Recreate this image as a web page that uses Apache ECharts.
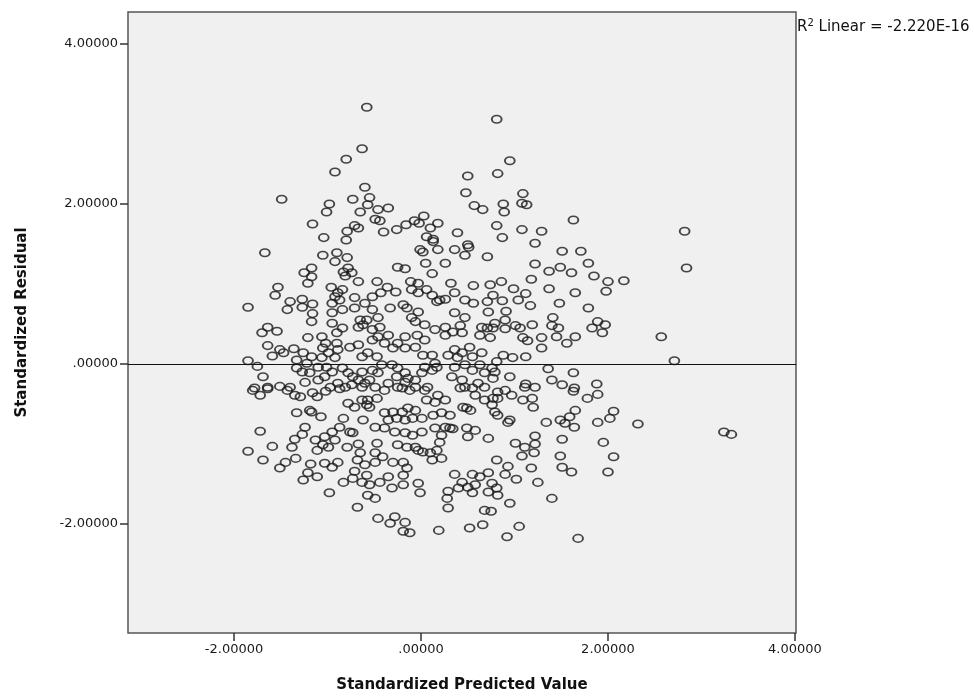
<!DOCTYPE html>
<html>
<head>
<meta charset="utf-8">
<title>Standardized Residual vs Standardized Predicted Value</title>
<script src="https://cdn.jsdelivr.net/npm/echarts@6/dist/echarts.min.js"></script>
<style>
  html, body { margin: 0; padding: 0; background: #fff; }
  #chart { width: 974px; height: 698px; }
</style>
</head>
<body>
<div id="chart"></div>
<script>
// [standardized predicted value, standardized residual]
const points = [
  [-0.58,3.21],[-0.63,2.69],[-0.80,2.56],[-0.92,2.40],[-0.60,2.21],[-1.49,2.06],[-0.73,2.06],[-0.98,2.00],
  [-1.01,1.90],[-0.65,1.90],[-0.55,2.08],[-0.57,1.99],[-1.16,1.75],[-0.71,1.73],[-0.67,1.70],[-0.79,1.66],
  [-1.04,1.58],[-0.80,1.55],
  [0.81,3.06],[0.50,2.35],[0.82,2.38],[0.48,2.14],[0.57,1.98],[0.66,1.93],[0.88,2.00],[-0.46,1.93],
  [-0.35,1.95],[-0.49,1.81],[-0.44,1.79],[-0.40,1.65],[-0.26,1.68],[-0.16,1.74],[-0.07,1.79],[-0.02,1.76],
  [0.03,1.85],[0.18,1.76],[0.10,1.70],[0.06,1.59],[0.13,1.56],[0.39,1.64],[0.50,1.49],[0.81,1.73],
  [0.95,2.54],[1.09,2.13],[0.89,1.90],[1.08,2.01],[1.13,1.99],[1.63,1.80],[1.08,1.68],[1.29,1.66],
  [0.87,1.58],[1.22,1.51],
  [2.82,1.66],[2.84,1.20],[2.17,1.04],[2.57,0.34],[2.71,0.04],[2.32,-0.75],[3.24,-0.85],[3.32,-0.88],
  [-1.67,1.39],[-1.05,1.36],[-0.90,1.39],[-0.92,1.28],[-0.79,1.33],[-1.25,1.14],[-1.17,1.20],[-1.21,1.01],
  [-1.17,1.09],[-0.83,1.15],[-0.78,1.20],[-0.74,1.14],[-0.81,1.10],[-0.67,1.03],[-1.53,0.96],[-1.56,0.86],
  [-0.96,0.96],[-0.89,0.89],[-0.84,0.93],[-0.92,0.84],[-0.87,0.80],[-0.71,0.83],[-0.60,0.76],[-1.85,0.71],
  [-1.40,0.78],[-1.43,0.68],[-1.27,0.81],[-1.27,0.71],[-1.16,0.75],[-1.16,0.63],[-1.17,0.53],[-0.95,0.76],
  [-0.95,0.64],[-0.95,0.51],[-0.84,0.68],[-0.71,0.70],[-0.65,0.55],[-0.67,0.46],[-0.62,0.49],[-1.64,0.46],
  [-1.70,0.39],[-1.54,0.41],[-1.21,0.33],[-0.84,0.45],[-0.90,0.39],[-1.64,0.23],[-1.59,0.10],[-1.51,0.18],
  [-1.47,0.14],[-1.36,0.19],[-1.06,0.34],[-1.02,0.26],[-1.05,0.20],[-0.99,0.14],[-0.90,0.26],[-0.89,0.18],
  [-0.92,0.08],[-0.76,0.21],[-0.67,0.24],[-0.63,0.09],[-1.26,0.14],[-1.17,0.09],[-1.33,0.05],[-1.22,0.01],
  [-1.06,0.08],[-1.10,-0.04],[-1.85,0.04],[-1.75,-0.03],[-1.33,-0.05],[-1.27,-0.10],[-1.19,-0.11],[-1.24,-0.23],
  [-1.01,-0.04],[-0.95,-0.10],[-1.03,-0.16],[-1.10,-0.20],[-0.84,-0.05],[-0.78,-0.11],[-0.73,-0.16],[-0.63,-0.10],
  [-0.60,-0.24],[-0.67,-0.20],[-1.69,-0.16],[-1.78,-0.30],[-1.64,-0.29],[-1.51,-0.28],[-1.40,-0.29],[-0.89,-0.24],
  [-0.81,-0.29],[-0.97,-0.29],
  [0.13,1.53],[-0.01,1.43],[0.02,1.40],[0.18,1.43],[0.36,1.43],[0.47,1.36],[0.51,1.46],[0.71,1.34],
  [0.05,1.26],[0.26,1.26],[-0.25,1.21],[-0.17,1.19],[0.12,1.13],[-0.47,1.03],[-0.36,0.96],[-0.27,0.90],
  [-0.43,0.89],[-0.52,0.84],[-0.11,1.03],[-0.03,1.01],[-0.10,0.93],[-0.03,0.89],[0.06,0.93],[0.12,0.86],
  [0.17,0.78],[0.20,0.80],[0.32,1.01],[0.36,0.89],[0.26,0.81],[0.56,0.98],[0.74,0.99],[0.77,0.86],
  [0.71,0.78],[0.47,0.80],[0.56,0.76],[-0.33,0.70],[-0.19,0.74],[-0.15,0.70],[-0.03,0.65],[-0.52,0.68],
  [-0.46,0.58],[-0.58,0.55],[-0.10,0.58],[-0.06,0.53],[0.04,0.49],[0.36,0.64],[0.47,0.58],[0.42,0.48],
  [0.72,0.65],[-0.52,0.43],[-0.44,0.46],[-0.35,0.36],[-0.46,0.34],[-0.39,0.26],[-0.30,0.20],[-0.25,0.26],
  [-0.52,0.30],[-0.17,0.34],[-0.04,0.36],[0.04,0.30],[0.15,0.43],[0.26,0.46],[0.26,0.36],[0.34,0.40],
  [0.44,0.39],[0.65,0.46],[0.71,0.45],[0.77,0.45],[0.63,0.36],[0.74,0.33],[-0.17,0.20],[-0.06,0.21],
  [0.02,0.11],[0.12,0.11],[0.15,0.01],[0.29,0.11],[0.36,0.18],[0.44,0.14],[0.52,0.21],[0.55,0.09],
  [0.65,0.14],[0.39,0.08],[-0.57,0.14],[-0.47,0.09],[-0.42,-0.01],[-0.52,-0.08],[-0.46,-0.11],[-0.55,-0.20],
  [-0.31,-0.01],[-0.25,-0.05],[-0.17,-0.11],[-0.26,-0.16],[-0.14,-0.18],[-0.06,-0.20],[0.01,-0.11],[0.04,-0.04],
  [0.17,-0.04],[0.12,-0.08],[0.36,-0.04],[0.47,-0.01],[0.55,-0.08],[0.63,-0.01],[0.76,-0.05],[0.68,-0.11],
  [0.77,-0.18],[0.33,-0.16],[0.44,-0.20],[0.47,-0.29],[0.61,-0.24],[0.68,-0.29],[-0.35,-0.24],[-0.25,-0.29],
  [-0.17,-0.23],[-0.06,-0.29],[0.07,-0.29],
  [1.51,1.41],[1.71,1.41],[1.22,1.25],[1.37,1.16],[1.49,1.21],[1.61,1.14],[1.79,1.26],[1.85,1.10],
  [2.00,1.03],[1.98,0.91],[1.18,1.06],[0.86,1.03],[0.99,0.94],[1.12,0.88],[1.04,0.80],[1.17,0.73],
  [0.87,0.79],[1.37,0.94],[1.65,0.89],[1.48,0.76],[1.79,0.70],[0.91,0.66],[0.90,0.55],[0.79,0.51],
  [0.90,0.44],[1.01,0.48],[1.06,0.45],[1.19,0.49],[1.41,0.58],[1.40,0.48],[1.47,0.45],[1.45,0.34],
  [1.83,0.45],[1.89,0.53],[1.97,0.49],[1.94,0.39],[1.09,0.33],[1.14,0.29],[1.29,0.33],[1.29,0.20],
  [1.56,0.26],[1.65,0.34],[0.88,0.11],[0.98,0.08],[1.12,0.09],[0.81,0.03],[1.36,-0.06],[0.95,-0.16],
  [0.79,-0.10],[1.40,-0.20],[1.51,-0.26],[1.63,-0.11],[1.64,-0.30],[1.12,-0.25],[1.22,-0.29],[1.88,-0.25],
  [-1.80,-0.33],[-1.72,-0.39],[-1.64,-0.31],[-1.43,-0.33],[-1.35,-0.39],[-1.29,-0.41],[-1.16,-0.36],[-1.11,-0.41],
  [-1.02,-0.34],[-0.87,-0.31],[-0.74,-0.26],[-0.63,-0.29],[-1.33,-0.61],[-1.19,-0.58],[-1.17,-0.60],[-1.07,-0.66],
  [-0.78,-0.49],[-0.71,-0.54],[-0.63,-0.45],[-0.58,-0.51],[-0.83,-0.68],[-0.87,-0.79],[-0.76,-0.85],[-0.73,-0.86],
  [-0.62,-0.70],[-1.72,-0.84],[-1.24,-0.79],[-1.27,-0.88],[-1.35,-0.94],[-1.38,-1.04],[-1.13,-0.95],[-1.03,-0.91],
  [-0.95,-0.85],[-0.92,-0.95],[-0.99,-1.04],[-1.11,-1.08],[-1.05,-1.01],[-0.79,-1.04],[-0.67,-1.00],[-0.65,-1.11],
  [-0.68,-1.20],[-1.85,-1.09],[-1.59,-1.03],[-1.69,-1.20],[-1.34,-1.18],[-1.45,-1.23],[-1.51,-1.30],[-1.18,-1.25],
  [-1.21,-1.36],[-1.26,-1.45],[-1.11,-1.41],[-1.03,-1.24],[-0.95,-1.29],[-0.89,-1.23],[-0.71,-1.34],[-0.73,-1.43],
  [-0.63,-1.48],[-0.83,-1.48],[-0.60,-1.26],[-0.58,-1.39],[-0.98,-1.61],[-0.68,-1.79],[-0.57,-1.64],
  [-0.49,-0.29],[-0.39,-0.33],[-0.20,-0.30],[-0.12,-0.33],[0.04,-0.33],[0.18,-0.39],[0.15,-0.48],[0.26,-0.45],
  [0.06,-0.45],[0.42,-0.30],[0.55,-0.30],[0.58,-0.39],[0.68,-0.45],[0.77,-0.43],[-0.57,-0.45],[-0.47,-0.43],
  [-0.55,-0.54],[0.45,-0.54],[0.49,-0.55],[0.53,-0.58],[0.76,-0.51],[0.79,-0.60],[-0.39,-0.61],[-0.30,-0.60],
  [-0.20,-0.60],[-0.14,-0.55],[-0.06,-0.58],[-0.35,-0.70],[-0.26,-0.68],[-0.17,-0.70],[-0.09,-0.68],[0.01,-0.68],
  [0.22,-0.61],[0.31,-0.64],[0.13,-0.64],[-0.49,-0.79],[-0.39,-0.80],[-0.28,-0.85],[-0.17,-0.86],[-0.09,-0.89],
  [0.01,-0.85],[0.15,-0.80],[0.26,-0.79],[0.31,-0.80],[0.34,-0.81],[0.49,-0.80],[0.58,-0.83],[0.50,-0.91],
  [0.72,-0.93],[0.22,-0.89],[0.20,-0.98],[0.17,-1.08],[-0.25,-1.01],[-0.15,-1.04],[-0.06,-1.04],[-0.03,-1.08],
  [0.02,-1.10],[0.10,-1.11],[0.12,-1.20],[0.22,-1.18],[-0.47,-0.99],[-0.49,-1.11],[-0.41,-1.16],[-0.49,-1.23],
  [-0.30,-1.23],[-0.19,-1.23],[-0.15,-1.30],[-0.35,-1.41],[-0.44,-1.48],[-0.55,-1.51],[-0.31,-1.55],[-0.49,-1.68],
  [-0.19,-1.39],[-0.19,-1.51],[-0.03,-1.49],[-0.01,-1.61],[0.36,-1.38],[0.44,-1.48],[0.50,-1.54],[0.58,-1.51],
  [0.29,-1.59],[0.28,-1.68],[0.29,-1.80],[0.40,-1.55],[0.55,-1.61],[0.55,-1.38],[0.63,-1.41],[0.72,-1.36],
  [0.76,-1.49],[0.72,-1.60],[0.81,-1.55],[0.81,-1.20],[0.68,-1.83],[0.75,-1.84],[-0.46,-1.93],[-0.33,-1.99],
  [-0.28,-1.91],[-0.17,-1.98],[-0.19,-2.09],[-0.12,-2.11],[0.19,-2.08],[0.52,-2.05],[0.66,-2.01],
  [0.82,-0.35],[0.90,-0.33],[0.97,-0.39],[0.82,-0.43],[1.11,-0.29],[1.09,-0.45],[1.19,-0.43],[1.20,-0.54],
  [1.63,-0.34],[1.78,-0.43],[1.89,-0.38],[0.82,-0.64],[0.93,-0.73],[0.95,-0.70],[1.34,-0.73],[1.49,-0.70],
  [1.54,-0.74],[1.59,-0.66],[1.65,-0.58],[1.64,-0.79],[1.89,-0.73],[2.02,-0.68],[2.06,-0.59],[1.22,-0.90],
  [1.01,-0.99],[1.11,-1.04],[1.22,-1.00],[1.08,-1.15],[1.21,-1.11],[1.51,-0.94],[1.95,-0.98],[1.49,-1.15],
  [1.51,-1.29],[1.61,-1.35],[2.06,-1.16],[2.00,-1.35],[0.93,-1.28],[0.90,-1.38],[1.02,-1.44],[1.18,-1.30],
  [1.25,-1.48],[0.82,-1.64],[0.95,-1.74],[1.40,-1.68],[1.05,-2.03],[0.92,-2.16],[1.68,-2.18]
];

const xTicks = [-2, 0, 2, 4];
const yTicks = [-2, 0, 2, 4];
const xRange = [-3.134, 4.011];
const yRange = [-3.3625, 4.4];
const fitValue = 0;   // linear fit line (slope ~ 0)
const fitLabel = 'Linear = -2.220E-16';

const font = '"DejaVu Sans", "Liberation Sans", Arial, sans-serif';

function fmt(v) {
    if (v === 0) return '.00000';
    return v.toFixed(5);
}

const chart = echarts.init(document.getElementById('chart'));
chart.setOption({
    animation: false,
    backgroundColor: '#fff',
    textStyle: { fontFamily: font },
    grid: {
        left: 128,
        top: 12,
        width: 668,
        height: 621,
        show: true,
        backgroundColor: '#f0f0f0',
        borderColor: '#555',
        borderWidth: 1.5
    },
    xAxis: {
        type: 'value',
        min: xRange[0],
        max: xRange[1],
        name: 'Standardized Predicted Value',
        nameLocation: 'middle',
        nameGap: 45,
        nameTextStyle: { fontFamily: font, fontSize: 15, fontWeight: 'bold', color: '#111' },
        axisLine: { show: false, onZero: false },
        splitLine: { show: false },
        axisTick: {
            show: true,
            length: 8,
            customValues: xTicks,
            lineStyle: { color: '#333', width: 1.5 }
        },
        axisLabel: {
            customValues: xTicks,
            margin: 10,
            fontSize: 13,
            color: '#1a1a1a',
            formatter: fmt
        }
    },
    yAxis: {
        type: 'value',
        min: yRange[0],
        max: yRange[1],
        name: 'Standardized Residual',
        nameLocation: 'middle',
        nameGap: 98,
        nameTextStyle: { fontFamily: font, fontSize: 15, fontWeight: 'bold', color: '#111' },
        axisLine: { show: false, onZero: false },
        splitLine: { show: false },
        axisTick: {
            show: true,
            length: 8,
            customValues: yTicks,
            lineStyle: { color: '#333', width: 1.5 }
        },
        axisLabel: {
            customValues: yTicks,
            margin: 10,
            fontSize: 13,
            color: '#1a1a1a',
            formatter: fmt
        }
    },
    graphic: [{
        type: 'text',
        left: 797,
        top: 18,
        style: {
            text: '{a|R}{s|2}{a| ' + fitLabel + '}',
            rich: {
                a: { fontFamily: font, fontSize: 15, lineHeight: 18, fill: '#111' },
                s: { fontFamily: font, fontSize: 10, lineHeight: 18, verticalAlign: 'top', fill: '#111' }
            }
        }
    }],
    series: [{
        type: 'scatter',
        data: points,
        symbol: 'circle',
        symbolSize: [9.8, 7.6],
        itemStyle: {
            color: 'rgba(0,0,0,0)',
            borderColor: '#1a1a1a',
            borderWidth: 1.7
        },
        markLine: {
            silent: true,
            symbol: 'none',
            label: { show: false },
            lineStyle: { color: '#111', width: 1, type: 'solid' },
            data: [{ yAxis: fitValue }]
        }
    }]
});
</script>
</body>
</html>
